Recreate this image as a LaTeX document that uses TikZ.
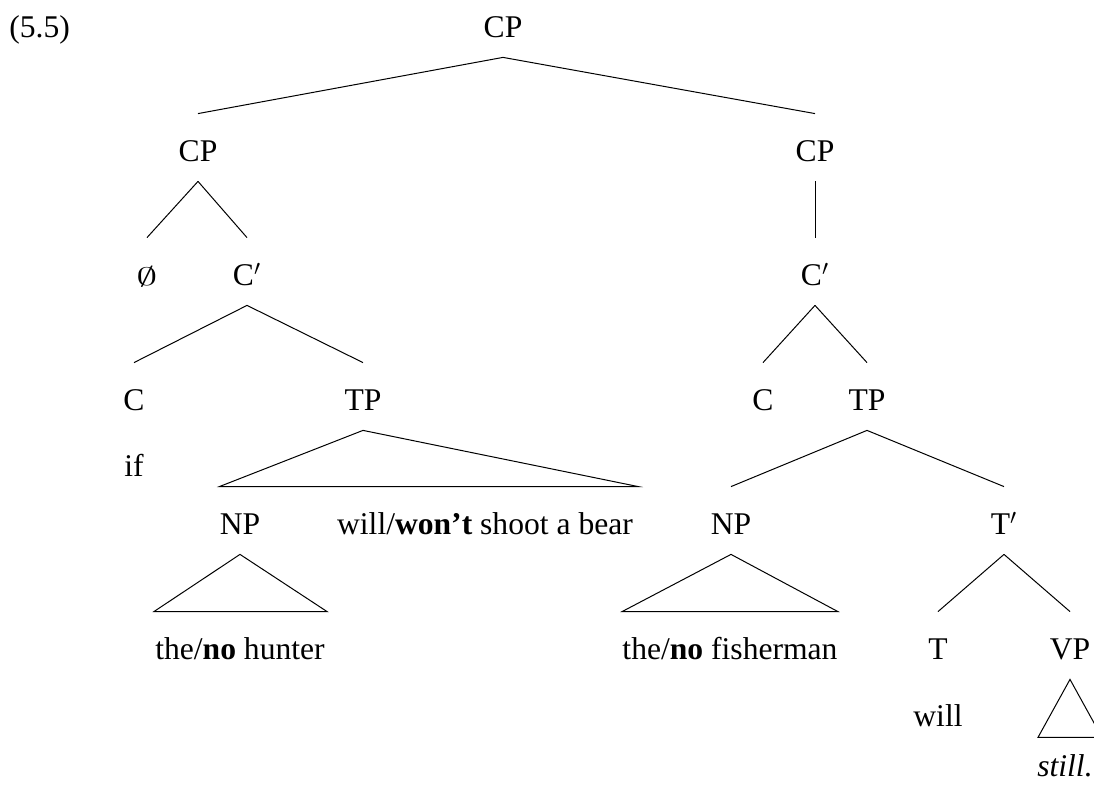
\documentclass[tikz,border=0pt]{standalone}
\usepackage{fontspec}
\setmainfont{Liberation Serif}
\begin{document}
\begin{tikzpicture}[x=0.5pt,y=-0.5pt,
  font=\fontsize{15.8}{19}\selectfont,
  lab/.style={anchor=base, inner sep=0pt, text height=24pt, text depth=9.5pt},
  plain/.style={anchor=base, inner sep=0pt},
  edge/.style={line width=0.5pt, line join=miter}]
\useasboundingbox (0,0) rectangle (1094,785);
% labels
\node[plain, anchor=base west] (ex) at (9,38) {(5.5)};
\node[lab] (root) at (503,38) {CP};
\node[lab] (cpL) at (198,162) {CP};
\node[lab] (cpR) at (815,162) {CP};
\node[lab] (empty) at (147,286) {\resizebox{10.5pt}{9.5pt}{$\emptyset$}};
\node[lab] (cbarL) at (247,286) {C$'$};
\node[lab] (cbarR) at (815,286) {C$'$};
\node[lab] (cL) at (134,411) {C};
\node[lab] (tpL) at (363,411) {TP};
\node[lab] (cR) at (763,411) {C};
\node[lab] (tpR) at (867,411) {TP};
\node[plain] (ifL) at (134,477) {if};
\node[lab] (npL) at (240,535) {NP};
\node[lab] (ww) at (485,535) {will/\textbf{won’t} shoot a bear};
\node[lab] (npR) at (731,535) {NP};
\node[lab] (tbar) at (1004,535) {T$'$};
\node[lab] (hunter) at (240,660) {the/\textbf{no} hunter};
\node[lab] (fisher) at (730,660) {the/\textbf{no} fisherman};
\node[lab] (tR) at (938,660) {T};
\node[lab] (vp) at (1070,660) {VP};
\node[plain] (willR) at (938,727) {will};
\node[plain] (still) at (1065,777) {\itshape still.};
% branches
\draw[edge] (root.south) -- (cpL.north);
\draw[edge] (root.south) -- (cpR.north);
\draw[edge] (cpL.south) -- (empty.north);
\draw[edge] (cpL.south) -- (cbarL.north);
\draw[edge] (cpR.south) -- (cbarR.north);
\draw[edge] (cbarL.south) -- (cL.north);
\draw[edge] (cbarL.south) -- (tpL.north);
\draw[edge] (cbarR.south) -- (cR.north);
\draw[edge] (cbarR.south) -- (tpR.north);
\draw[edge] (tpR.south) -- (npR.north);
\draw[edge] (tpR.south) -- (tbar.north);
\draw[edge] (tbar.south) -- (tR.north);
\draw[edge] (tbar.south) -- (vp.north);
% triangles
\draw[edge] (tpL.south) -- (npL.north west) -- ([xshift=2.5pt]ww.north east) -- cycle;
\draw[edge] (npL.south) -- ([xshift=-0.5pt]hunter.north west) -- ([xshift=1pt]hunter.north east) -- cycle;
\draw[edge] (npR.south) -- (fisher.north west) -- (fisher.north east) -- cycle;
\draw[edge] (vp.south) -- ++(-32,58) -- ++(64,0) -- cycle;
\end{tikzpicture}
\end{document}
